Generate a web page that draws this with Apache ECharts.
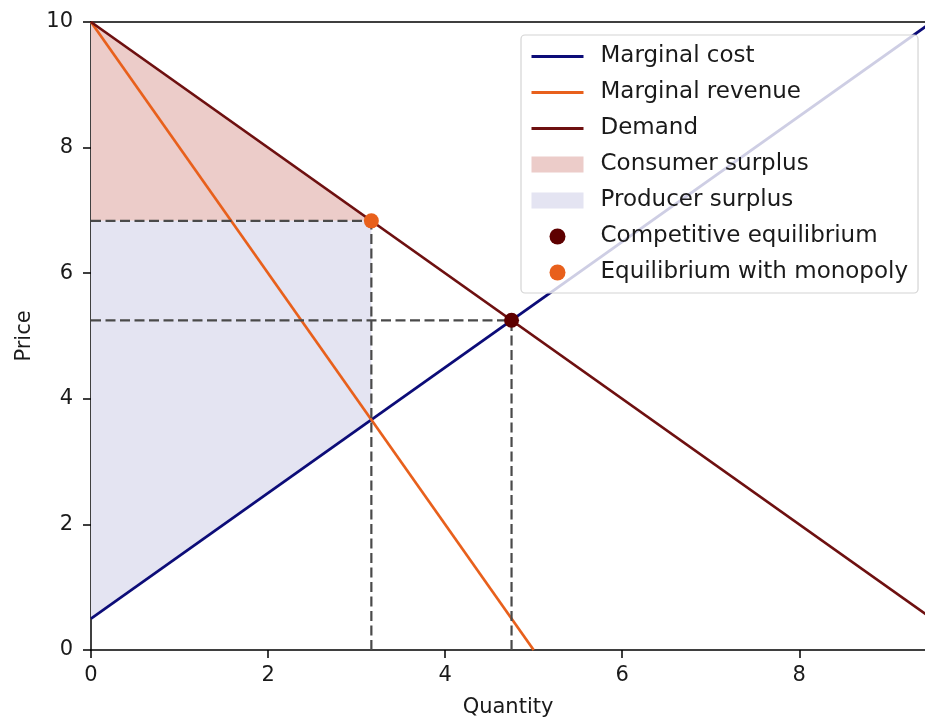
<!DOCTYPE html>
<html><head><meta charset="utf-8">
<script src="https://cdn.jsdelivr.net/npm/echarts@6/dist/echarts.min.js"></script>
<style>html,body{margin:0;padding:0;background:#fff}#c{width:925px;height:723px}</style>
</head><body><div id="c"></div><script>
const xTicks = [0, 2, 4, 6, 8];
const yTicks = [0, 2, 4, 6, 8, 10];
const marginalCost = [[0, 0.5], [9.5, 10]];
const marginalRevenue = [[0, 10], [5, 0]];
const demand = [[0, 10], [9.5, 0.5]];
const consumerSurplus = [[0, 10], [3.1667, 6.8333], [0, 6.8333]];
const producerSurplus = [[0, 6.8333], [3.1667, 6.8333], [3.1667, 3.6667], [0, 0.5]];
const competitiveEq = [[4.75, 5.25]];
const monopolyEq = [[3.1667, 6.8333]];
const guideMonoH = [[0, 6.8333], [3.1667, 6.8333]];
const guideMonoV = [[3.1667, 0], [3.1667, 6.8333]];
const guideCompH = [[0, 5.25], [4.75, 5.25]];
const guideCompV = [[4.75, 0], [4.75, 5.25]];

const FONT = 'DejaVu Sans';
const C = {
  mc: '#0c0c78', mr: '#e8601c', dem: '#6e1010',
  cs: 'rgb(236,204,201)', ps: 'rgb(228,228,242)',
  ce: '#5e0000', me: '#e8601c', guide: '#4a4a4a'
};

function polygonSeries(name, pts, color) {
  return {
    type: 'custom', name: name, data: pts, z: 1,
    encode: { x: 0, y: 1 },
    itemStyle: { color: color },
    renderItem: function (params, api) {
      if (params.dataIndex !== 0) return null;
      const points = pts.map(p => api.coord(p));
      return { type: 'polygon', shape: { points: points }, style: { fill: color } };
    }
  };
}
function lineSeries(name, data, color, width, dashed) {
  return {
    type: 'line', name: name, data: data, symbol: 'none', showSymbol: false,
    z: dashed ? 3 : 2, silent: true, animation: false,
    lineStyle: { color: color, width: width, type: dashed ? [10, 4.5] : 'solid' },
    itemStyle: { color: color }
  };
}
const hiddenSymbol = { color: 'rgba(0,0,0,0)', borderWidth: 0, opacity: 0 };

const chart = echarts.init(document.getElementById('c'));
chart.setOption({
  animation: false,
  backgroundColor: '#fff',
  grid: { left: 91, right: 0, top: 22, bottom: 71 },
  xAxis: [{
    type: 'value', min: 0, max: 9.42, interval: 2,
    name: 'Quantity', nameLocation: 'middle', nameGap: 47,
    nameTextStyle: { fontFamily: FONT, fontSize: 21, color: '#1a1a1a' },
    axisLine: { show: true, onZero: false, lineStyle: { color: '#000', width: 1.5 } },
    axisTick: { show: true, length: 8, lineStyle: { color: '#000', width: 1.5 }, customValues: xTicks },
    axisLabel: { fontFamily: FONT, fontSize: 21, color: '#1a1a1a', margin: 15, customValues: xTicks },
    splitLine: { show: false }
  }, {
    type: 'value', position: 'top', min: 0, max: 9.42,
    axisLine: { show: true, onZero: false, lineStyle: { color: '#000', width: 1.5 } },
    axisTick: { show: false }, axisLabel: { show: false }, splitLine: { show: false }
  }],
  yAxis: {
    type: 'value', min: 0, max: 10, interval: 2,
    name: 'Price', nameLocation: 'middle', nameGap: 56, nameRotate: 90,
    nameTextStyle: { fontFamily: FONT, fontSize: 21, color: '#1a1a1a' },
    axisLine: { show: true, onZero: false, lineStyle: { color: '#000', width: 1.5 } },
    axisTick: { show: true, length: 8, lineStyle: { color: '#000', width: 1.5 }, customValues: yTicks },
    axisLabel: { fontFamily: FONT, fontSize: 21, color: '#1a1a1a', margin: 18, customValues: yTicks },
    splitLine: { show: false }
  },
  legend: {
    orient: 'vertical', left: 521, top: 35, padding: [10, 10, 9, 9],
    itemGap: 13, itemWidth: 52, itemHeight: 16,
    backgroundColor: 'rgba(255,255,255,0.8)', borderColor: '#d4d4d4', borderWidth: 1.2, borderRadius: 4,
    selectedMode: false,
    textStyle: { fontFamily: FONT, fontSize: 23, color: '#1a1a1a', padding: [0, 0, 0, 12] },
    data: [
      { name: 'Marginal cost', itemStyle: hiddenSymbol, lineStyle: { width: 3 } },
      { name: 'Marginal revenue', itemStyle: hiddenSymbol, lineStyle: { width: 3 } },
      { name: 'Demand', itemStyle: hiddenSymbol, lineStyle: { width: 3 } },
      { name: 'Consumer surplus', icon: 'rect' },
      { name: 'Producer surplus', icon: 'rect' },
      { name: 'Competitive equilibrium', icon: 'circle' },
      { name: 'Equilibrium with monopoly', icon: 'circle' }
    ]
  },
  series: [
    polygonSeries('Consumer surplus', consumerSurplus, C.cs),
    polygonSeries('Producer surplus', producerSurplus, C.ps),
    lineSeries('Marginal cost', marginalCost, C.mc, 2.7, false),
    lineSeries('Marginal revenue', marginalRevenue, C.mr, 2.7, false),
    lineSeries('Demand', demand, C.dem, 2.7, false),
    lineSeries('', guideMonoH, C.guide, 2.2, true),
    lineSeries('', guideMonoV, C.guide, 2.2, true),
    lineSeries('', guideCompH, C.guide, 2.2, true),
    lineSeries('', guideCompV, C.guide, 2.2, true),
    { type: 'scatter', name: 'Competitive equilibrium', data: competitiveEq, symbolSize: 15, z: 5,
      itemStyle: { color: C.ce, opacity: 1 } },
    { type: 'scatter', name: 'Equilibrium with monopoly', data: monopolyEq, symbolSize: 15, z: 5,
      itemStyle: { color: C.me, opacity: 1 } }
  ]
});
</script></body></html>
